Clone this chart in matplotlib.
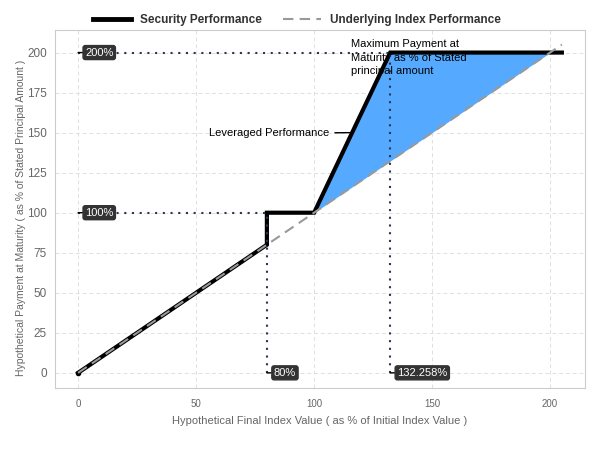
import matplotlib

matplotlib.use("Agg")
import matplotlib.pyplot as plt
import numpy as np

plt.rcParams["font.family"] = ["Liberation Sans", "DejaVu Sans"]

# security payoff path
security_x = [0, 80, 80, 100, 132.258, 205]
security_y = [0, 80, 100, 100, 200, 200]

# underlying index path
index_x = [0, 205]
index_y = [0, 205]

cap_level = 200
par_level = 100
barrier = 80
cap_point = 132.258

label_points = [(0, 200, "200%"), (0, 100, "100%"), (80, 0, "80%"), (132.258, 0, "132.258%")]

x_ticks = [0, 50, 100, 150, 200]
y_ticks = [0, 25, 50, 75, 100, 125, 150, 175, 200]

fig, ax = plt.subplots(figsize=(6, 4.5), dpi=100)
fig.subplots_adjust(left=0.092, right=0.975, top=0.933, bottom=0.138)

ax.grid(True, color="#e0e0e0", linestyle=(0, (4, 3)), linewidth=0.7)
ax.set_axisbelow(True)

# shaded region between security and index from 100 to cap
fill_x = np.array([100, cap_point, cap_level])
fill_sec = np.interp(fill_x, security_x, security_y)
fill_idx = np.interp(fill_x, index_x, index_y)
ax.fill_between(fill_x, fill_idx, fill_sec, color="#55aaff", linewidth=0, zorder=2)

ax.plot(security_x, security_y, color="black", linewidth=3, zorder=4,
        solid_joinstyle="miter", label="Security Performance")
ax.plot(index_x, index_y, color="#999999", linestyle=(0, (5, 3)), linewidth=1.5, zorder=5,
        label="Underlying Index Performance")
ax.plot([0], [0], "o", color="black", markersize=3, zorder=3)

dot_color = "#2b3553"
dots = (0, (1, 2.7))
ax.plot([0, cap_point], [cap_level, cap_level], color=dot_color, linestyle=dots, linewidth=1.5, zorder=6)
ax.plot([0, barrier], [par_level, par_level], color=dot_color, linestyle=dots, linewidth=1.5, zorder=6)
ax.plot([barrier, barrier], [0, par_level], color=dot_color, linestyle=dots, linewidth=1.5, zorder=6)
ax.plot([cap_point, cap_point], [0, cap_level], color=dot_color, linestyle=dots, linewidth=1.5, zorder=6)

for px, py, text in label_points:
    ax.annotate(text, xy=(px, py), xytext=(5, 0), textcoords="offset points",
                ha="left", va="center", fontsize=8, color="white", zorder=7,
                bbox=dict(boxstyle="round,pad=0.18,rounding_size=0.2", fc="#333333", ec="#333333"),
                arrowprops=dict(arrowstyle="-", color="black", lw=1, shrinkA=0, shrinkB=0))

ax.annotate("Leveraged Performance", xy=(115, 150), xytext=(55.5, 149.5),
            ha="left", va="center", fontsize=8, color="black", zorder=7,
            arrowprops=dict(arrowstyle="-", color="black", lw=1, shrinkA=2, shrinkB=0))
ax.text(115.5, 208.5, "Maximum Payment at\nMaturity as % of Stated\nprincipal amount",
        ha="left", va="top", fontsize=8, color="black", zorder=7, linespacing=1.45)

ax.set_xlim(-9.7, 214.8)
ax.set_ylim(-9.4, 214)
ax.set_xticks(x_ticks)
ax.set_yticks(y_ticks)
ax.tick_params(axis="x", labelsize=7, colors="#666666", length=0, pad=8)
ax.tick_params(axis="y", labelsize=8.5, colors="#666666", length=0, pad=6)
for spine in ax.spines.values():
    spine.set_color("#cccccc")
    spine.set_linewidth(0.8)

ax.set_xlabel("Hypothetical Final Index Value ( as % of Initial Index Value )", fontsize=8, color="#666666", labelpad=5)
ax.set_ylabel("Hypothetical Payment at Maturity ( as % of Stated Principal Amount )", fontsize=7.5, color="#666666")
ax.yaxis.set_label_coords(-0.055, 0.475)

handles, labels = ax.get_legend_handles_labels()
leg = fig.legend(handles, labels, loc="center", bbox_to_anchor=(0.495, 0.955), ncol=2,
                 frameon=False, handlelength=3.2, columnspacing=1.8,
                 prop={"weight": "bold", "size": 8.5})
for text in leg.get_texts():
    text.set_color("#333333")
leg.get_lines()[0].set_linewidth(3.5)

fig.savefig("out.png", dpi=100)
